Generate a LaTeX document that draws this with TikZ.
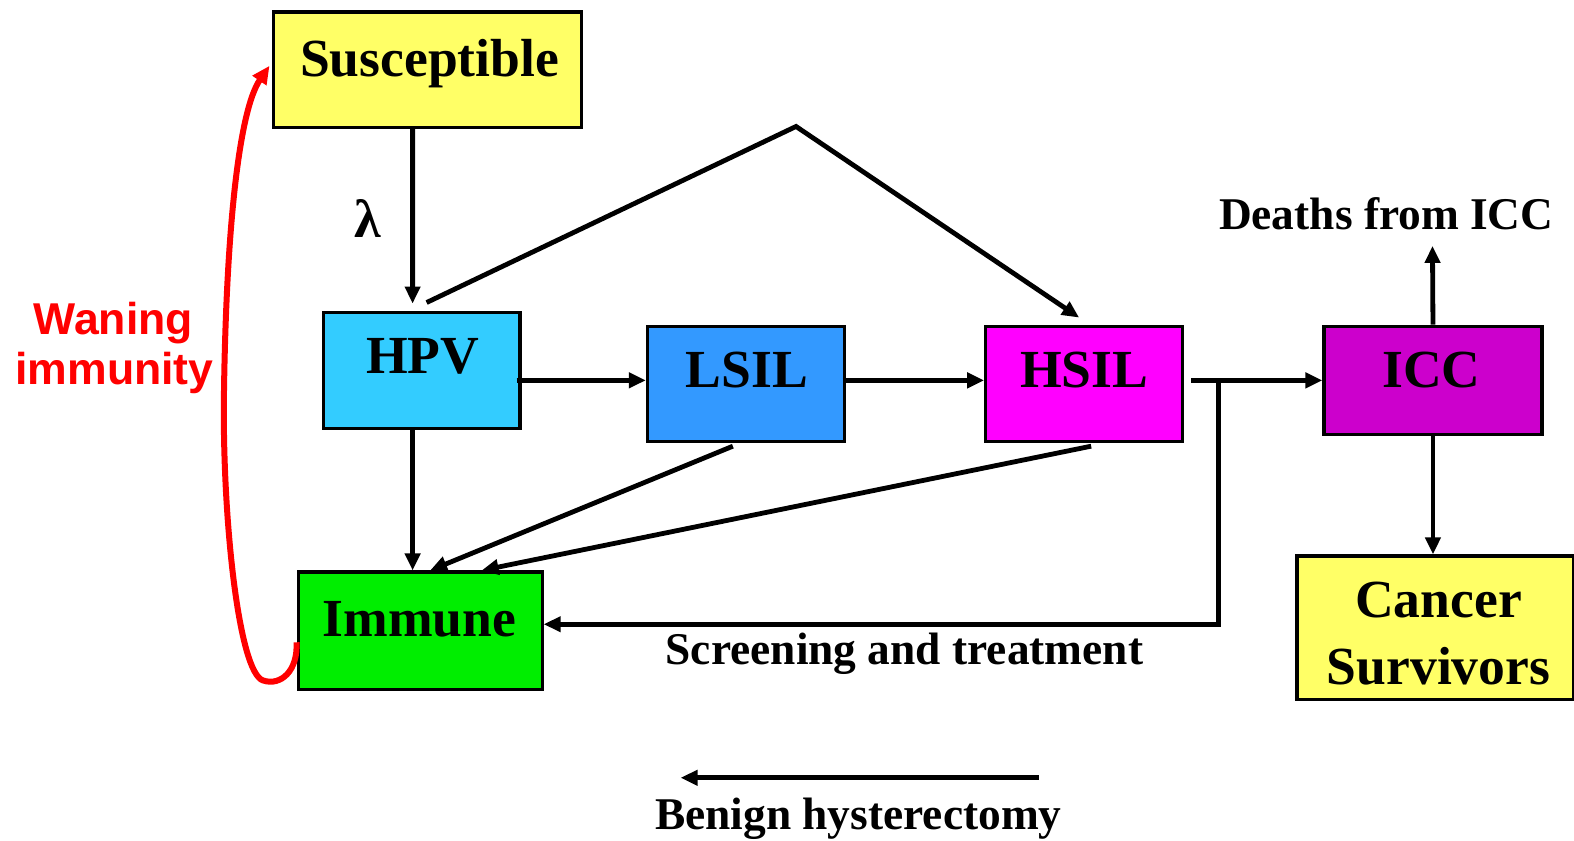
\documentclass[tikz,border=0pt]{standalone}
\usepackage{fontspec}
\setmainfont{Liberation Serif}
\newfontfamily\arialfont{Liberation Sans}
\usetikzlibrary{arrows.meta,calc}
\definecolor{cyel}{HTML}{FFFF66}
\definecolor{chpv}{HTML}{33CCFF}
\definecolor{clsil}{HTML}{3399FF}
\definecolor{chsil}{HTML}{FF00FF}
\definecolor{cicc}{HTML}{CC00CC}
\definecolor{cimm}{HTML}{00EE00}
\definecolor{cred}{HTML}{FF0000}
\tikzset{
  box/.style={draw=black, line width=1.6pt, rectangle, inner sep=0pt},
  lbl/.style={anchor=base, inner sep=0pt, font=\fontsize{26.8}{30}\selectfont\bfseries},
  small/.style={anchor=base, inner sep=0pt, font=\fontsize{22.7}{26}\selectfont\bfseries},
  arr/.style={line width=2.4pt, -{Triangle[length=8.5pt,width=7.5pt]}},
}
\begin{document}
\begin{tikzpicture}[x=0.50191pt,y=-0.50179pt]
\useasboundingbox (0,0) rectangle (1568,837);
% boxes
\node[box, fill=cyel, minimum width=154pt, minimum height=57.7pt] (sus) at (425.5,69.5) {};
\node[box, fill=chpv, minimum width=98.4pt, minimum height=58.2pt] (hpv) at (420,369) {};
\node[box, fill=clsil, minimum width=98.4pt, minimum height=57.7pt] (lsil) at (743,382.5) {};
\node[box, fill=chsil, minimum width=98.4pt, minimum height=57.7pt] (hsil) at (1080,382.5) {};
\node[box, fill=cicc, minimum width=109pt, minimum height=54.2pt] (icc) at (1427.5,379) {};
\node[box, fill=cimm, minimum width=122pt, minimum height=58.7pt] (imm) at (418.5,628.5) {};
\node[box, fill=cyel, minimum width=138.5pt, minimum height=71.8pt] (can) at (1430,625.5) {};
% labels
\node[lbl] (tsus) at (428,76) {Susceptible};
\node[lbl] (thpv) at (421,372) {HPV};
\node[lbl] (tlsil) at (744,386) {LSIL};
\node[lbl] (thsil) at (1080,386) {HSIL};
\node[lbl] (ticc) at (1426,386) {ICC};
\node[lbl] (timm) at (418,634) {Immune};
\node[lbl] (tcan1) at (1433,615) {Cancer};
\node[lbl] (tcan2) at (1433,682) {Survivors};
\node[small] (tdeath) at (1381,229) {Deaths from ICC};
\node[small] (tscreen) at (901,662) {Screening and treatment};
\node[small] (tbenign) at (855,827) {Benign hysterectomy};
\node[anchor=base, inner sep=0pt, font=\fontsize{27}{30}\selectfont\bfseries] (tlam) at (366,237) {λ};
\node[anchor=base, inner sep=0pt, text=cred, font=\arialfont\fontsize{22.3}{26}\selectfont\bfseries] (twan1) at (113,333) {Waning};
\node[anchor=base, inner sep=0pt, text=cred, font=\arialfont\fontsize{22.3}{26}\selectfont\bfseries] (twan2) at (114,383) {immunity};
% coordinates
\coordinate (apex) at (793,126);
\coordinate (br) at (1214,379);
\coordinate (brd) at (1214,622);
\coordinate (dtip) at (1427,245);
\coordinate (bA) at (1035,775);
\coordinate (bB) at (678,775);
% connectors
\draw[arr] ([xshift=-7.25pt]sus.south) -- ([xshift=-4.5pt,yshift=3.5pt]hpv.north);
\draw[arr, line join=miter] ([xshift=2.5pt,yshift=4pt]hpv.north) -- (apex) -- ([xshift=-2.5pt,yshift=3.5pt]hsil.north);
\draw[arr] ([xshift=-2.5pt,yshift=-5pt]hpv.east) coordinate (a1) -- (a1 -| lsil.west);
\draw[arr] ([xshift=-1.5pt,yshift=1.75pt]lsil.east) coordinate (a2) -- (a2 -| hsil.west);
\draw[arr] ([xshift=3.5pt,yshift=1.75pt]hsil.east) coordinate (a3) -- (a3 -| icc.west);
\draw[arr, line join=miter] (br) -- (brd) -- (brd -| imm.east);
\draw[arr] (icc.north) -- (dtip);
\draw[arr] (icc.south) -- (icc.south |- can.north);
\draw[arr] ([xshift=-4.5pt]hpv.south) -- ([xshift=-4.5pt]hpv.south |- imm.north);
\draw[arr] ([xshift=-6.5pt,yshift=-1.5pt]lsil.south) -- ([xshift=5pt]imm.north);
\draw[arr] ([xshift=3.5pt,yshift=-1.5pt]hsil.south) -- ([xshift=30.75pt]imm.north);
\draw[arr] (bA) -- (bB);
\draw[cred, line width=3pt, -{Triangle[length=9pt,width=8pt]}]
  ([yshift=-5.75pt]imm.west) .. controls (297,668) and (280,684) .. (262,678)
  .. controls (238,670) and (222,520) .. (223,400)
  .. controls (225,230) and (238,110) .. ([xshift=-1pt,yshift=2pt]sus.west);
\end{tikzpicture}
\end{document}
